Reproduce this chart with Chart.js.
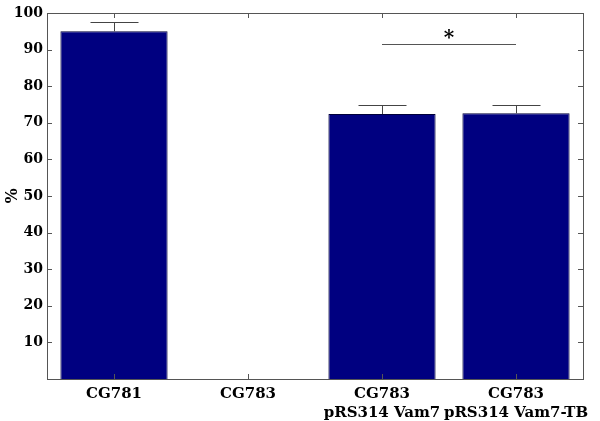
<!DOCTYPE html>
<html lang="en">
<head>
    <meta charset="UTF-8">
    <title>Vam7 bar chart</title>
    <script src="https://cdn.jsdelivr.net/npm/chart.js"></script>
    <style>
        html, body { margin: 0; padding: 0; background: #fff; }
        #wrap { width: 600px; height: 421px; }
    </style>
</head>
<body>
    <div id="wrap"><canvas id="barChart" width="600" height="421"></canvas></div>
    <script>
        // data
        const categories = [['CG781'], ['CG783'], ['CG783', 'pRS314 Vam7'], ['CG783', 'pRS314 Vam7-TB']];
        const values = [95.0, 0, 72.4, 72.6];
        const errors = [2.5, 0, 2.4, 2.4];
        const yTicks = [10, 20, 30, 40, 50, 60, 70, 80, 90, 100];
        const sigPair = [2, 3];
        const sigLevel = 91.5;
        const sigMark = '*';

        const FONT = "'DejaVu Serif', serif";
        const AXIS = '#555';

        // box, inward ticks, error bars, significance bracket
        const extras = {
            id: 'extras',
            afterDatasetsDraw(chart) {
                const ctx = chart.ctx, a = chart.chartArea;
                const x = chart.scales.x, y = chart.scales.y;
                ctx.save();
                // error bars (upper only)
                ctx.strokeStyle = '#444';
                ctx.lineWidth = 1;
                values.forEach((v, i) => {
                    if (!errors[i]) return;
                    const cx = Math.round(x.getPixelForValue(i)) + 0.5;
                    const y0 = y.getPixelForValue(v);
                    const y1 = Math.round(y.getPixelForValue(v + errors[i])) + 0.5;
                    ctx.beginPath();
                    ctx.moveTo(cx, y0); ctx.lineTo(cx, y1);
                    ctx.moveTo(cx - 24, y1); ctx.lineTo(cx + 24, y1);
                    ctx.stroke();
                });
                // box
                ctx.strokeStyle = AXIS;
                ctx.strokeRect(Math.round(a.left) + 0.5, Math.round(a.top) + 0.5,
                    Math.round(a.right - a.left), Math.round(a.bottom - a.top));
                // inward ticks
                ctx.beginPath();
                yTicks.forEach(t => {
                    const py = Math.round(y.getPixelForValue(t)) + 0.5;
                    ctx.moveTo(a.left, py); ctx.lineTo(a.left + 5, py);
                    ctx.moveTo(a.right, py); ctx.lineTo(a.right - 5, py);
                });
                categories.forEach((c, i) => {
                    const px = Math.round(x.getPixelForValue(i)) + 0.5;
                    ctx.moveTo(px, a.bottom); ctx.lineTo(px, a.bottom - 5);
                    ctx.moveTo(px, a.top); ctx.lineTo(px, a.top + 5);
                });
                ctx.stroke();
                // significance line
                const sx0 = x.getPixelForValue(sigPair[0]);
                const sx1 = x.getPixelForValue(sigPair[1]);
                const sy = Math.round(y.getPixelForValue(sigLevel)) + 0.5;
                ctx.strokeStyle = '#555';
                ctx.beginPath();
                ctx.moveTo(sx0, sy); ctx.lineTo(sx1, sy);
                ctx.stroke();
                ctx.fillStyle = '#000';
                ctx.font = "bold 20px " + FONT;
                ctx.textAlign = 'center';
                ctx.textBaseline = 'alphabetic';
                ctx.fillText(sigMark, (sx0 + sx1) / 2, sy - 1);
                ctx.restore();
            }
        };

        new Chart(document.getElementById('barChart'), {
            type: 'bar',
            data: {
                labels: categories,
                datasets: [{
                    data: values,
                    backgroundColor: '#000080',
                    borderColor: '#00003a',
                    borderWidth: 1,
                    categoryPercentage: 0.8,
                    barPercentage: 1.0
                }]
            },
            options: {
                responsive: false,
                animation: false,
                layout: { padding: { left: 0, right: 17, top: 13, bottom: 0 } },
                plugins: { legend: { display: false }, tooltip: { enabled: false } },
                scales: {
                    x: {
                        grid: { display: false, drawTicks: false },
                        border: { display: false },
                        ticks: {
                            color: '#000',
                            padding: 5,
                            maxRotation: 0,
                            autoSkip: false,
                            font: { family: FONT, size: 15, weight: 'bold', lineHeight: 1.3 }
                        },
                        afterFit(s) { s.height = 42; }
                    },
                    y: {
                        min: 0,
                        max: 100,
                        grid: { display: false, drawTicks: false },
                        border: { display: false },
                        title: {
                            display: true,
                            text: '%',
                            color: '#000',
                            padding: { top: 3, bottom: 0 },
                            font: { family: FONT, size: 16, weight: 'bold' }
                        },
                        afterBuildTicks(s) { s.ticks = yTicks.map(v => ({ value: v })); },
                        ticks: {
                            color: '#000',
                            padding: 4,
                            font: { family: FONT, size: 14, weight: 'bold' }
                        },
                        afterFit(s) { s.width = 47; }
                    }
                }
            },
            plugins: [extras]
        });
    </script>
</body>
</html>
